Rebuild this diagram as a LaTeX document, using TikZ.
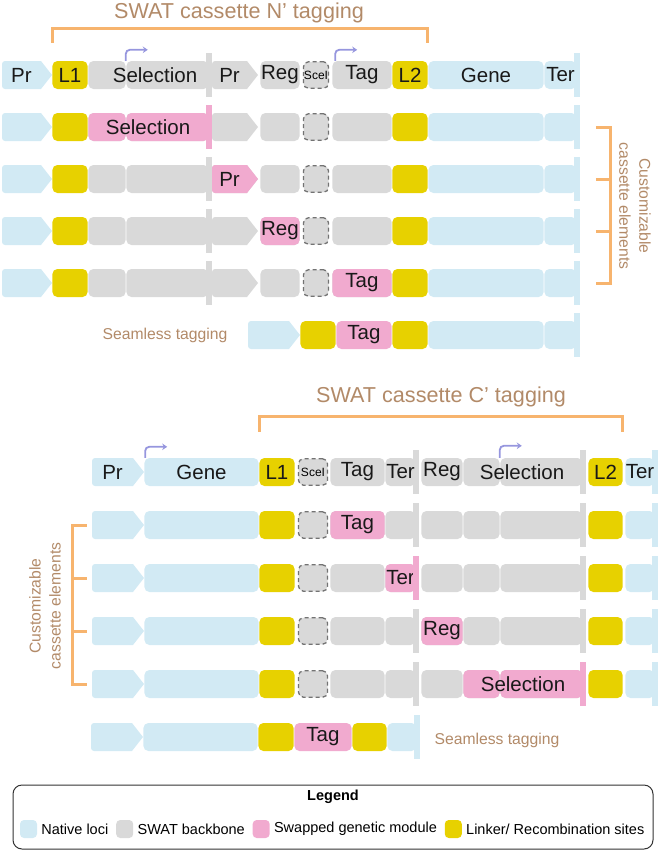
\documentclass[tikz,border=0pt]{standalone}
\usepackage{fontspec}
\setmainfont{Liberation Sans}
\usetikzlibrary{arrows.meta,positioning}

\definecolor{natc}{RGB}{210,234,244}
\definecolor{bbnc}{RGB}{217,217,217}
\definecolor{swpc}{RGB}{241,170,207}
\definecolor{lnkc}{RGB}{231,209,0}
\definecolor{orngc}{RGB}{247,180,110}
\definecolor{brwnc}{RGB}{178,138,104}
\definecolor{lavc}{RGB}{150,150,222}
\definecolor{dshc}{RGB}{115,115,115}

\tikzset{
  lab/.style={text=black!90, font=\fontsize{20.5}{24}\selectfont},
  blk/.style={lab, rectangle, rounded corners=5pt, inner sep=0pt, minimum height=28pt},
  brk/.style={draw=orngc, line width=3pt},
  tss/.style={draw=lavc, line width=1.8pt, rounded corners=4pt, -{Stealth[length=5pt,width=6.5pt]}},
  brn/.style={text=brwnc, font=\fontsize{15.7}{20}\selectfont},
  ttl/.style={text=brwnc, font=\fontsize{21.6}{26}\selectfont},
  sw/.style={rectangle, rounded corners=4pt, minimum width=17pt, minimum height=18pt, inner sep=0pt},
  leg/.style={inner sep=0pt, font=\fontsize{14.5}{17}\selectfont}
}

% name, x1, x2, y, colour, label
\newcommand{\partblk}[6]{%
  \node[blk, fill=#5, minimum width={#3-#2-0.8}] (#1) at ({(#2+#3)/2},#4) {#6};}
\newcommand{\promblk}[6]{%
  \fill[#5] (#3,#4) -- (#3-11,#4-14) [rounded corners=3pt] -- (#2,#4-14) -- (#2,#4+14) [sharp corners] -- (#3-11,#4+14) -- cycle;
  \node[blk, minimum width={#3-#2-11}] (#1) at ({(#2+#3-11)/2},#4) {#6};}
\newcommand{\termblk}[6]{%
  \partblk{#1}{#2}{#3-3}{#4}{#5}{#6}%
  \fill[#5] (#3-6,#4-22) rectangle (#3,#4+22);}
% name, x1, x2, y, label
\newcommand{\sceblk}[5]{%
  \node[blk, fill=bbnc, draw=dshc, line width=1.3pt, dash pattern=on 4pt off 3pt,
    minimum width={#3-#2-3}, minimum height=26.5pt, font=\fontsize{12}{14}\selectfont] (#1) at ({(#2+#3)/2},#4) {#5};}

\begin{document}
\begin{tikzpicture}[x=1pt, y=-1pt]
\useasboundingbox (0,0) rectangle (661,852);

% N' tagging
\foreach \r/\y in {1/75,2/127,3/179,4/231,5/283}{
  \promblk{nPa\r}{2}{52}{\y}{natc}{}
  \partblk{nLa\r}{52}{88}{\y}{lnkc}{}
  \partblk{nSa\r}{88}{126}{\y}{bbnc}{}
  \termblk{nSb\r}{126}{212}{\y}{bbnc}{}
  \promblk{nPb\r}{212}{258}{\y}{bbnc}{}
  \partblk{nRg\r}{260}{300}{\y}{bbnc}{}
  \sceblk{nSc\r}{302}{330}{\y}{}
  \partblk{nTg\r}{332}{392}{\y}{bbnc}{}
  \partblk{nLb\r}{392}{428}{\y}{lnkc}{}
  \partblk{nGn\r}{428}{544}{\y}{natc}{}
  \termblk{nTr\r}{544}{580}{\y}{natc}{}
}
\foreach \n/\t in {nPa1/Pr, nLa1/L1, nPb1/Pr, nRg1/Reg, nTg1/Tag, nLb1/L2, nGn1/Gene, nTr1/Ter}
  \node[lab] (t\n) at (\n) {\t};
\node[lab] (tnSel) at (155,75) {Selection};
\node[font=\fontsize{12}{14}\selectfont] (tnSc) at (nSc1) {SceI};

% swapped modules
\partblk{wSa}{88}{126}{127}{swpc}{}
\termblk{wSb}{126}{212}{127}{swpc}{}
\node[lab] (twSel) at (148,127) {Selection};
\promblk{wPr}{212}{258}{179}{swpc}{Pr}
\partblk{wRg}{260}{300}{231}{swpc}{Reg}
\partblk{wTg}{332}{392}{283}{swpc}{Tag}

% seamless
\promblk{sPr}{248}{300}{335}{natc}{}
\partblk{sLa}{300}{336}{335}{lnkc}{}
\partblk{sTg}{336}{392}{335}{swpc}{Tag}
\partblk{sLb}{392}{428}{335}{lnkc}{}
\partblk{sGn}{428}{544}{335}{natc}{}
\termblk{sTr}{544}{580}{335}{natc}{}
\node[brn] (sTx) at (165,335) {Seamless tagging};

\draw[tss] (nSa1.north east) -- ++(0,-11) -- ++(22,0);
\draw[tss] ([xshift=3pt]nTg1.north west) -- ++(0,-11) -- ++(22,0);

\draw[brk] ([yshift=18pt]nLa1.north west) -- ++(0,-14) -| ([yshift=18pt]nLb1.north east);
\node[ttl] (nTtl) at (239,13) {SWAT cassette N' tagging};

\draw[brk] ([xshift=19pt]nTr2.east) -- ++(15,0) |- ([xshift=19pt]nTr5.east);
\foreach \r in {3,4}
  \draw[brk] ([xshift=19pt]nTr\r.east) -- ++(15,0);
\node[brn, rotate=-90, align=center] (nCus) at (635,206) {Customizable\\cassette elements};

% C' tagging
\foreach \r/\y in {1/472,2/525,3/578,4/631,5/684}{
  \promblk{cPr\r}{92}{144}{\y}{natc}{}
  \partblk{cGn\r}{144}{259}{\y}{natc}{}
  \partblk{cLa\r}{259}{295}{\y}{lnkc}{}
  \sceblk{cSc\r}{297}{329}{\y}{}
  \partblk{cTg\r}{330}{385}{\y}{bbnc}{}
  \termblk{cTe\r}{385}{419}{\y}{bbnc}{}
  \partblk{cRg\r}{421}{463}{\y}{bbnc}{}
  \partblk{cSa\r}{463}{500}{\y}{bbnc}{}
  \termblk{cSb\r}{500}{586}{\y}{bbnc}{}
  \partblk{cLb\r}{588}{623}{\y}{lnkc}{}
  \termblk{cTr\r}{625}{658}{\y}{natc}{}
}
\foreach \n/\t in {cPr1/Pr, cGn1/Gene, cLa1/L1, cTg1/Tag, cTe1/Ter, cRg1/Reg, cLb1/L2, cTr1/Ter}
  \node[lab] (t\n) at (\n) {\t};
\node[lab] (tcSel) at (522,472) {Selection};
\node[font=\fontsize{12}{14}\selectfont] (tcSc) at (cSc1) {SceI};

% swapped modules
\partblk{vTg}{330}{385}{525}{swpc}{Tag}
\termblk{vTe}{385}{419}{578}{swpc}{Ter}
\partblk{vRg}{421}{463}{631}{swpc}{Reg}
\partblk{vSa}{463}{500}{684}{swpc}{}
\termblk{vSb}{500}{586}{684}{swpc}{}
\node[lab] (tvSel) at (523,684) {Selection};

% seamless
\promblk{dPr}{91}{143}{737}{natc}{}
\partblk{dGn}{143}{258}{737}{natc}{}
\partblk{dLa}{258}{294}{737}{lnkc}{}
\partblk{dTg}{294}{352}{737}{swpc}{Tag}
\partblk{dLb}{352}{387}{737}{lnkc}{}
\termblk{dTr}{387}{420}{737}{natc}{}
\node[brn] (dTx) at (497,740) {Seamless tagging};

\draw[tss] ([xshift=1pt]cGn1.north west) -- ++(0,-11) -- ++(22,0);
\draw[tss] (cSa1.north east) -- ++(0,-12) -- ++(22,0);

\draw[brk] ([yshift=26pt]cLa1.north west) -- ++(0,-15) -| ([yshift=26pt]cLb1.north east);
\node[ttl] (cTtl) at (441,397) {SWAT cassette C' tagging};

\draw[brk] ([xshift=-5pt]cPr2.west) -- ++(-14,0) |- ([xshift=-5pt]cPr5.west);
\foreach \r in {3,4}
  \draw[brk] ([xshift=-5pt]cPr\r.west) -- ++(-14,0);
\node[brn, rotate=90, align=center] (cCus) at (45,606) {Customizable\\cassette elements};

% legend
\draw[draw=black!80, line width=1pt, rounded corners=9pt] (13,785) rectangle (653,849);
\node[leg, font=\bfseries\fontsize{14.5}{17}\selectfont] (lgT) at (333,797) {Legend};
\node[sw, fill=natc] (kNat) at (28.5,829) {};
\node[leg, right=4pt of kNat] (lNat) {Native loci};
\node[sw, fill=bbnc, right=7.5pt of lNat] (kBbn) {};
\node[leg, right=4pt of kBbn] (lBbn) {SWAT backbone};
\node[sw, fill=swpc, right=7.5pt of lBbn] (kSwp) {};
\node[leg, right=4pt of kSwp] (lSwp) {Swapped genetic module};
\node[sw, fill=lnkc, right=7.5pt of lSwp] (kLnk) {};
\node[leg, right=4pt of kLnk] (lLnk) {Linker/ Recombination sites};
\end{tikzpicture}
\end{document}
